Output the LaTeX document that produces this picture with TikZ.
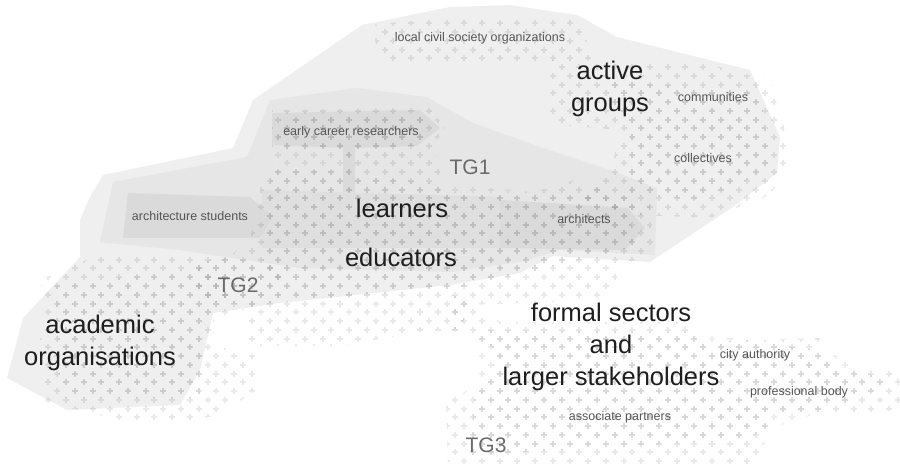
\documentclass[tikz,border=0pt]{standalone}
\usepackage{fontspec}
\setmainfont{Liberation Sans}
\definecolor{regA}{HTML}{EFEFEF}
\definecolor{regB}{HTML}{E6E6E6}
\definecolor{regC}{HTML}{DADADA}
\definecolor{bigtxt}{HTML}{1E1E1E}
\definecolor{smalltxt}{HTML}{555555}
\definecolor{tgtxt}{HTML}{6A6A6A}
\tikzset{
  crs/.style={draw=black, draw opacity=0.085, line width=2pt},
  crscore/.style={draw=black, draw opacity=0.065, line width=2pt},
  biglbl/.style={text=bigtxt, font=\fontsize{25.5}{32}\selectfont, align=center, inner sep=0pt},
  smalllbl/.style={text=smalltxt, font=\fontsize{12.5}{15}\selectfont, inner sep=0pt},
  tglbl/.style={text=tgtxt, font=\fontsize{21}{25}\selectfont, inner sep=0pt}
}
\newcommand\crossfield[5][crs]{%
  \foreach \k in {#4,...,#5}{%
    \foreach \i in {#2,...,#3}{%
      \pgfmathsetmacro\cx{17.7*\i+8.85*mod(\k,2)+4}%
      \pgfmathsetmacro\cy{8.75*\k+6}%
      \path[#1] (\cx,\cy) +(-3,0) -- +(3,0) +(0,-3) -- +(0,3);
    }}}
\begin{document}
\begin{tikzpicture}[x=1pt,y=-1pt]
\useasboundingbox (0,0) rectangle (900,473);
% outer light region
\fill[regA] (362,25) -- (450,7) -- (510,5) -- (577,15) -- (617,37) -- (750,70)
  -- (780,137) -- (777,173) -- (733,207) -- (650,262) -- (553,256) -- (520,273)
  -- (450,285) -- (280,303) -- (213,313) -- (200,370) -- (180,405) -- (67,410)
  -- (7,378) -- (23,318) -- (80,257) -- (80,220) -- (90,197) -- (103,175)
  -- (233,148) -- (253,100) -- cycle;
% medium region
\fill[regB] (113,182) -- (247,157) -- (270,100) -- (357,88) -- (427,97) -- (473,123)
  -- (540,147) -- (610,170) -- (657,188) -- (655,255) -- (560,250) -- (520,262)
  -- (450,272) -- (380,270) -- (300,268) -- (180,250) -- (100,242) -- cycle;
% learners band
\fill[regC!60!regB] (262,190) -- (500,197) -- (500,248) -- (262,248) -- cycle;
% darker arrow bands
\fill[regC] (272,113) -- (420,110) -- (440,128) -- (417,146) -- (355,148) -- (355,192)
  -- (343,192) -- (343,148) -- (272,145) -- cycle;
\fill[regC] (128,193) -- (250,197) -- (273,217) -- (260,238) -- (123,238) -- cycle;
\fill[regC] (500,200) -- (628,208) -- (645,228) -- (625,250) -- (500,248) -- cycle;
% cross fields (outer, faint)
\begin{scope}
  \clip (372,25) -- (510,10) -- (580,18) -- (592,60) -- (540,64) -- (380,64) -- cycle;
  \crossfield{20}{33}{2}{7}
\end{scope}
\begin{scope}
  \clip (548,60) -- (700,62) -- (770,80) -- (785,130) -- (790,165) -- (770,195)
    -- (710,218) -- (640,215) -- (573,198) -- (610,175) -- (620,130) -- (560,125)
    -- (548,118) -- cycle;
  \crossfield{30}{45}{6}{25}
\end{scope}
\begin{scope}
  \clip (272,110) -- (430,108) -- (445,128) -- (430,150) -- (440,160) -- (440,192)
    -- (520,196) -- (575,180) -- (650,205) -- (655,252) -- (620,266) -- (610,300)
    -- (470,305) -- (460,330) -- (420,332) -- (340,346) -- (250,346) -- (245,305)
    -- (200,300) -- (190,265) -- (230,256) -- (250,240) -- (260,190) -- (265,170)
    -- (345,170) -- (345,150) -- (272,150) -- cycle;
  \crossfield{10}{37}{11}{39}
\end{scope}
\begin{scope}
  \clip (95,256) -- (200,256) -- (250,260) -- (282,268) -- (282,300) -- (250,308)
    -- (215,318) -- (210,345) -- (256,355) -- (256,390) -- (220,415) -- (180,422)
    -- (120,420) -- (45,402) -- (40,340) -- (45,305) -- (40,280) -- cycle;
  \crossfield{1}{15}{28}{48}
\end{scope}
\begin{scope}
  \clip (452,295) -- (470,300) -- (500,322) -- (690,322) -- (700,342) -- (820,338)
    -- (832,368) -- (900,372) -- (900,410) -- (840,414) -- (770,412) -- (765,440)
    -- (760,464) -- (448,466) -- (446,400) -- (488,382) -- (498,350) -- (452,330) -- cycle;
  \crossfield{24}{51}{32}{53}
\end{scope}
% cross fields (cores, darker)
\begin{scope}
  \clip (280,118) -- (425,115) -- (425,145) -- (350,150) -- (350,175) -- (620,200)
    -- (640,245) -- (560,265) -- (450,290) -- (300,300) -- (262,270) -- (270,180) -- cycle;
  \crossfield[crscore]{10}{37}{11}{39}
\end{scope}
\begin{scope}
  \clip (600,80) -- (760,92) -- (772,170) -- (700,200) -- (630,195) -- (630,130) -- cycle;
  \crossfield[crscore]{30}{45}{6}{25}
\end{scope}
\begin{scope}
  \clip (55,285) -- (200,268) -- (250,285) -- (205,320) -- (200,398) -- (60,398) -- cycle;
  \crossfield[crscore]{1}{15}{28}{48}
\end{scope}
\begin{scope}
  \clip (480,330) -- (690,332) -- (830,352) -- (890,385) -- (840,405) -- (740,440)
    -- (470,455) -- cycle;
  \crossfield[crscore]{24}{51}{32}{53}
\end{scope}
% labels
\node[smalllbl] (lcso) at (480,38) {local civil society organizations};
\node[biglbl] (active) at (610,89) {active\\groups};
\node[smalllbl] (comm) at (713,97) {communities};
\node[smalllbl] (coll) at (703,158) {collectives};
\node[smalllbl] (ecr) at (351,132) {early career researchers};
\node[tglbl] (tg1) at (470,167) {TG1};
\node[smalllbl] (arch) at (190,216) {architecture students};
\node[biglbl] (learn) at (402,208) {learners};
\node[smalllbl] (archi) at (584,219) {architects};
\node[biglbl] (edu) at (401,257) {educators};
\node[tglbl] (tg2) at (238,285) {TG2};
\node[biglbl] (acad) at (100,343) {academic\\organisations};
\node[biglbl] (formal) at (611,347) {formal sectors\\and\\larger stakeholders};
\node[smalllbl] (city) at (755,355) {city authority};
\node[smalllbl] (prof) at (799,392) {professional body};
\node[smalllbl] (assoc) at (620,417) {associate partners};
\node[tglbl] (tg3) at (486,445) {TG3};
\end{tikzpicture}
\end{document}
